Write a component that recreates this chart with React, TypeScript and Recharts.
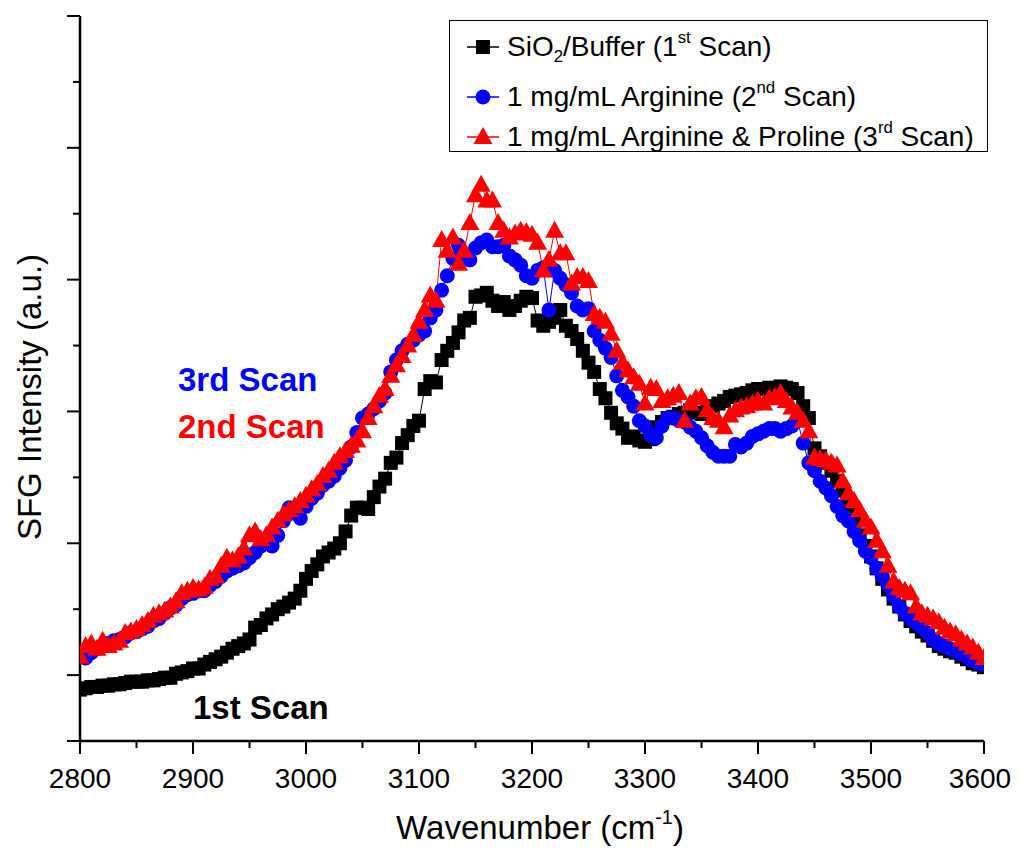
import React from 'react';
import { LineChart, Line, XAxis, YAxis } from 'recharts';

// Wavenumber grid (cm^-1): scan from 2800 to 3600 in 5 cm^-1 steps
const WN_START = 2800;
const WN_STEP = 5;

// SiO2/Buffer (1st scan), a.u.
const bufferScan = [
  -0.11, -0.10, -0.09, -0.09, -0.08, -0.08, -0.07, -0.07, -0.06, -0.05,
  -0.05, -0.05, -0.04, -0.04, -0.03, -0.02, -0.02, 0.01, 0.02, 0.03,
  0.05, 0.05, 0.08, 0.10, 0.12, 0.14, 0.17, 0.20, 0.22, 0.24,
  0.27, 0.36, 0.38, 0.43, 0.46, 0.50, 0.52, 0.55, 0.58, 0.64,
  0.73, 0.79, 0.84, 0.90, 0.93, 0.96, 1.00, 1.09, 1.21, 1.27,
  1.27, 1.26, 1.35, 1.43, 1.49, 1.61, 1.65, 1.76, 1.82, 1.89,
  1.93, 2.17, 2.23, 2.22, 2.39, 2.46, 2.52, 2.60, 2.69, 2.71,
  2.87, 2.88, 2.90, 2.84, 2.80, 2.83, 2.77, 2.80, 2.84, 2.87,
  2.86, 2.69, 2.65, 2.68, 2.71, 2.77, 2.65, 2.61, 2.55, 2.46,
  2.37, 2.30, 2.17, 2.10, 1.99, 1.91, 1.87, 1.80, 1.81, 1.78,
  1.77, 1.79, 1.88, 1.92, 1.95, 1.96, 1.98, 1.99, 2.01, 1.99,
  1.98, 2.01, 2.04, 2.06, 2.08, 2.11, 2.12, 2.13, 2.14, 2.16,
  2.17, 2.17, 2.18, 2.17, 2.19, 2.18, 2.17, 2.14, 2.04, 1.95,
  1.72, 1.66, 1.61, 1.55, 1.47, 1.40, 1.28, 1.17, 1.06, 0.98,
  0.90, 0.81, 0.73, 0.65, 0.58, 0.52, 0.46, 0.41, 0.37, 0.33,
  0.30, 0.26, 0.22, 0.20, 0.18, 0.17, 0.14, 0.12, 0.09, 0.08,
  0.06,
];

// 1 mg/mL Arginine (2nd scan), a.u.
const arginineScan = [
  0.14, 0.13, 0.17, 0.20, 0.22, 0.24, 0.26, 0.27, 0.29, 0.32,
  0.33, 0.35, 0.37, 0.41, 0.43, 0.47, 0.51, 0.53, 0.58, 0.61,
  0.62, 0.64, 0.64, 0.68, 0.71, 0.75, 0.79, 0.81, 0.83, 0.85,
  0.89, 0.93, 0.98, 1.00, 0.98, 1.06, 1.17, 1.27, 1.23, 1.19,
  1.28, 1.34, 1.38, 1.44, 1.47, 1.51, 1.57, 1.63, 1.73, 1.84,
  1.95, 1.98, 2.02, 2.08, 2.14, 2.30, 2.39, 2.46, 2.51, 2.54,
  2.58, 2.61, 2.71, 2.77, 2.92, 3.03, 3.16, 3.26, 3.18, 3.15,
  3.24, 3.28, 3.30, 3.25, 3.25, 3.26, 3.18, 3.15, 3.11, 3.03,
  3.01, 3.07, 3.09, 2.77, 3.07, 3.01, 2.96, 2.90, 2.80, 2.77,
  2.78, 2.61, 2.54, 2.48, 2.41, 2.27, 2.16, 2.11, 2.04, 1.93,
  1.89, 1.82, 1.80, 1.89, 1.95, 1.95, 1.93, 1.92, 1.88, 1.85,
  1.80, 1.74, 1.69, 1.66, 1.66, 1.66, 1.75, 1.73, 1.76, 1.81,
  1.83, 1.85, 1.87, 1.87, 1.85, 1.87, 1.89, 1.93, 1.76, 1.61,
  1.55, 1.47, 1.42, 1.36, 1.28, 1.21, 1.17, 1.09, 1.02, 0.94,
  0.89, 0.81, 0.75, 0.68, 0.60, 0.52, 0.47, 0.43, 0.40, 0.36,
  0.32, 0.27, 0.24, 0.22, 0.20, 0.18, 0.16, 0.14, 0.11, 0.09,
  0.08,
];

// 1 mg/mL Arginine & Proline (3rd scan), a.u.
const prolineScan = [
  0.14, 0.22, 0.24, 0.20, 0.26, 0.22, 0.24, 0.26, 0.32, 0.33,
  0.35, 0.38, 0.41, 0.45, 0.47, 0.49, 0.52, 0.56, 0.62, 0.64,
  0.66, 0.65, 0.67, 0.73, 0.75, 0.83, 0.89, 0.87, 0.90, 0.96,
  1.06, 1.09, 1.03, 1.06, 1.12, 1.17, 1.22, 1.25, 1.28, 1.32,
  1.36, 1.41, 1.45, 1.51, 1.55, 1.61, 1.66, 1.70, 1.74, 1.78,
  1.85, 1.95, 2.04, 2.12, 2.17, 2.27, 2.35, 2.42, 2.50, 2.58,
  2.68, 2.77, 2.88, 2.84, 3.30, 3.22, 3.32, 3.12, 3.22, 3.43,
  3.64, 3.72, 3.60, 3.60, 3.43, 3.37, 3.32, 3.35, 3.37, 3.36,
  3.34, 3.28, 3.07, 3.15, 3.37, 3.20, 3.20, 2.97, 3.02, 3.02,
  2.99, 2.74, 2.71, 2.68, 2.59, 2.46, 2.37, 2.31, 2.26, 2.21,
  2.06, 2.18, 2.17, 2.08, 2.10, 2.12, 2.14, 1.93, 2.06, 2.10,
  2.11, 2.01, 1.95, 1.93, 1.88, 1.97, 2.01, 2.03, 2.04, 2.06,
  2.08, 2.06, 2.10, 2.11, 2.14, 2.08, 2.03, 1.99, 1.93, 1.85,
  1.65, 1.64, 1.63, 1.61, 1.59, 1.47, 1.38, 1.32, 1.25, 1.17,
  1.12, 1.02, 0.94, 0.83, 0.71, 0.66, 0.64, 0.62, 0.52, 0.47,
  0.45, 0.43, 0.40, 0.36, 0.33, 0.31, 0.27, 0.24, 0.21, 0.17,
  0.13,
];

const wavenumbers = bufferScan.map((_, i) => WN_START + i * WN_STEP);

const xTicks = [2800, 2850, 2900, 2950, 3000, 3050, 3100, 3150, 3200, 3250, 3300, 3350, 3400, 3450, 3500, 3550, 3600];
const xTickLabels = [2800, 2900, 3000, 3100, 3200, 3300, 3400, 3500, 3600];
const yTicks = [-0.5, 0, 0.5, 1, 1.5, 2, 2.5, 3, 3.5, 4, 4.5, 5];

const data = wavenumbers.map((wn, i) => ({
  wn,
  buffer: bufferScan[i],
  arginine: arginineScan[i],
  proline: prolineScan[i],
}));

const FONT = '"Liberation Sans", Arial, Helvetica, sans-serif';
const BLACK = '#000000';
const BLUE = '#0000FF';
const RED = '#FF0000';

const XTick = (props: any) => {
  const { x, y, payload } = props;
  const v = payload.value;
  const major = xTickLabels.includes(v);
  const isLast = v === xTickLabels[xTickLabels.length - 1];
  return (
    <g>
      <line x1={x} y1={y} x2={x} y2={y + (major ? 13 : 7)} stroke="#000" strokeWidth={2} />
      {major && (
        <text x={isLast ? x - 4 : x} y={y + 47} textAnchor="middle" fontSize={28} fontFamily={FONT} fill="#000">
          {v}
        </text>
      )}
    </g>
  );
};

const YTick = (props: any) => {
  const { x, y, payload } = props;
  const v = payload.value;
  const major = Number.isInteger(v) || v === -0.5;
  return <line x1={x} y1={y} x2={x - (major ? 13 : 7)} y2={y} stroke="#000" strokeWidth={2} />;
};

const squareDot = (p: any) => (
  <rect key={`sq-${p.index}`} x={p.cx - 7} y={p.cy - 7} width={14} height={14} fill={BLACK} />
);
const circleDot = (p: any) => (
  <circle key={`ci-${p.index}`} cx={p.cx} cy={p.cy} r={7.5} fill={BLUE} />
);
const triangleDot = (p: any) => (
  <path
    key={`tr-${p.index}`}
    d={`M${p.cx},${p.cy - 10} L${p.cx + 9.5},${p.cy + 7} L${p.cx - 9.5},${p.cy + 7} Z`}
    fill={RED}
  />
);

const LegendIcon = ({ color, shape }: { color: string; shape: string }) => (
  <svg width={34} height={22} style={{ display: 'block' }}>
    <line x1={1} y1={11} x2={33} y2={11} stroke={color} strokeWidth={1.5} />
    {shape === 'square' && <rect x={10} y={4} width={14} height={14} fill={color} />}
    {shape === 'circle' && <circle cx={17} cy={11} r={7.5} fill={color} />}
    {shape === 'triangle' && <path d="M17,1 L26.5,18 L7.5,18 Z" fill={color} />}
  </svg>
);

const supStyle: React.CSSProperties = { fontSize: '0.6em', verticalAlign: '0.75em', lineHeight: 0 };
const subStyle: React.CSSProperties = { fontSize: '0.6em', verticalAlign: '-0.35em', lineHeight: 0 };

const legendRows = [
  {
    color: BLACK,
    shape: 'square',
    label: (
      <>
        SiO<span style={subStyle}>2</span>/Buffer (1<span style={supStyle}>st</span> Scan)
      </>
    ),
  },
  {
    color: BLUE,
    shape: 'circle',
    label: (
      <>
        1 mg/mL Arginine (2<span style={supStyle}>nd</span> Scan)
      </>
    ),
  },
  {
    color: RED,
    shape: 'triangle',
    label: (
      <>
        1 mg/mL Arginine &amp; Proline (3<span style={supStyle}>rd</span> Scan)
      </>
    ),
  },
];
const legendRowCenters = [26, 76, 116];

export default function App() {
  return (
    <div style={{ position: 'relative', width: 1004, height: 843, fontFamily: FONT, background: '#fff' }}>
      <style>{'.recharts-surface { overflow: visible; }'}</style>
      <LineChart
        width={1004}
        height={843}
        data={data}
        margin={{ top: 8, right: 28, bottom: 80, left: 52 }}
      >
        <XAxis
          dataKey="wn"
          type="number"
          domain={[2800, 3600]}
          allowDataOverflow
          ticks={xTicks}
          interval={0}
          height={30}
          tickSize={0}
          tickMargin={0}
          tickLine={false}
          tick={<XTick />}
          axisLine={{ stroke: '#000', strokeWidth: 2.5 }}
        />
        <YAxis
          type="number"
          domain={[-0.5, 5]}
          allowDataOverflow
          ticks={yTicks}
          interval={0}
          width={20}
          tickSize={0}
          tickMargin={0}
          tickLine={false}
          tick={<YTick />}
          axisLine={{ stroke: '#000', strokeWidth: 2.5 }}
        />
        <Line
          type="linear"
          dataKey="buffer"
          stroke={BLACK}
          strokeWidth={1}
          dot={squareDot}
          activeDot={false}
          isAnimationActive={false}
        />
        <Line
          type="linear"
          dataKey="arginine"
          stroke={BLUE}
          strokeWidth={1}
          dot={circleDot}
          activeDot={false}
          isAnimationActive={false}
        />
        <Line
          type="linear"
          dataKey="proline"
          stroke={RED}
          strokeWidth={1}
          dot={triangleDot}
          activeDot={false}
          isAnimationActive={false}
        />
      </LineChart>

      {/* Y axis title */}
      <div
        style={{
          position: 'absolute',
          left: 22 - 200,
          top: 389 - 20,
          width: 400,
          height: 40,
          lineHeight: '40px',
          textAlign: 'center',
          fontSize: 33,
          transform: 'rotate(-90deg)',
          whiteSpace: 'nowrap',
        }}
      >
        SFG Intensity (a.u.)
      </div>

      {/* X axis title */}
      <div
        style={{
          position: 'absolute',
          left: 232,
          top: 800,
          width: 600,
          height: 40,
          lineHeight: '40px',
          textAlign: 'center',
          fontSize: 33,
          whiteSpace: 'nowrap',
        }}
      >
        Wavenumber (cm<span style={supStyle}>-1</span>)
      </div>

      {/* Annotations */}
      <div style={{ position: 'absolute', left: 170, top: 352, fontSize: 33, fontWeight: 'bold', color: BLUE, lineHeight: '40px', whiteSpace: 'nowrap' }}>
        3rd Scan
      </div>
      <div style={{ position: 'absolute', left: 170, top: 399, fontSize: 33, fontWeight: 'bold', color: RED, lineHeight: '40px', whiteSpace: 'nowrap' }}>
        2nd Scan
      </div>
      <div style={{ position: 'absolute', left: 185, top: 680, fontSize: 33, fontWeight: 'bold', color: BLACK, lineHeight: '40px', whiteSpace: 'nowrap' }}>
        1st Scan
      </div>

      {/* Legend */}
      <div
        style={{
          position: 'absolute',
          left: 441,
          top: 12,
          width: 539,
          height: 132,
          border: '1.5px solid #000',
          boxSizing: 'border-box',
          background: '#fff',
        }}
      >
        {legendRows.map((row, i) => (
          <div
            key={i}
            style={{
              position: 'absolute',
              left: 16,
              top: legendRowCenters[i] - 18,
              height: 36,
              display: 'flex',
              alignItems: 'center',
              whiteSpace: 'nowrap',
              fontSize: 28,
              lineHeight: '36px',
            }}
          >
            <LegendIcon color={row.color} shape={row.shape} />
            <span style={{ marginLeft: 7 }}>{row.label}</span>
          </div>
        ))}
      </div>
    </div>
  );
}
